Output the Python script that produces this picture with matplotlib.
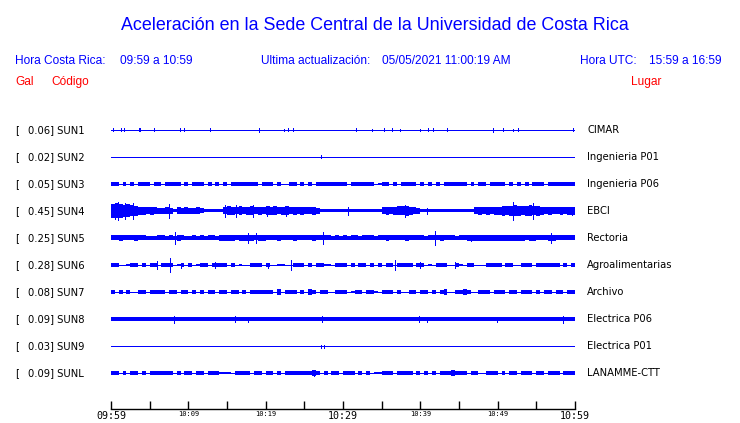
import matplotlib
matplotlib.use("Agg")
import matplotlib.pyplot as plt
import matplotlib.transforms as mtransforms
import numpy as np

# station data, top to bottom
codes = ["SUN1", "SUN2", "SUN3", "SUN4", "SUN5", "SUN6", "SUN7", "SUN8", "SUN9", "SUNL"]
peaks = [0.06, 0.02, 0.05, 0.45, 0.25, 0.28, 0.08, 0.09, 0.03, 0.09]
places = ["CIMAR", "Ingenieria P01", "Ingenieria P06", "EBCI", "Rectoria",
          "Agroalimentarias", "Archivo", "Electrica P06", "Electrica P01", "LANAMME-CTT"]

# envelope half-height per 30 s bin (hex digit, in half pixels)
env_sun1 = "0000000000" * 12
env_sun2 = "0000000000" * 12
env_sun3 = ("4404040444" "0440444404" "0444040404" "0444444404" "4404004404" "0404444444"
            "4044444402" "4404044440" "4040404444" "4404044044" "4404040404" "4404444444")
env_sun4 = ("efecdba887" "8766763767" "6675333337" "9879789787" "9897897878" "7786333333"
            "3333333333" "787899a876" "3333333333" "3333787878" "8a9aba9ab9" "a878778788")
env_sun5 = ("5565556554" "4455454654" "4545455466" "6656666566" "5556555655" "5565555454"
            "5455455545" "5655556555" "5455565554" "5566666666" "6666666566" "5556655555")
env_sun6 = ("4400244040" "4404440240" "4024404444" "0402004440" "4002200444" "0404422044"
            "4040440404" "0440444404" "4020444004" "2044000444" "4044004440" "4444440404")
env_sun7 = ("4040400440" "4444044044" "0404044044" "0440404444" "4406044404" "0640440044"
            "4024404420" "4440400440" "4404046004" "4640044404" "4404404440" "4044044044")
env_sun8 = "4444444444" * 12
env_sun9 = "0000000000" * 12
env_sunl = ("4404044040" "4444440404" "4044044422" "2044440440" "4404044444" "4464040440"
            "4440404022" "4440444404" "0404044454" "4404400444" "0404404440" "4404440444")
envelopes = [env_sun1, env_sun2, env_sun3, env_sun4, env_sun5,
             env_sun6, env_sun7, env_sun8, env_sun9, env_sunl]

# isolated spikes: (minute after 09:59, half-height in pixels)
spikes = [
    [(0.3, 1.5), (1.26, 1.5), (1.73, 1.5), (3.6, 1.5), (3.8, 1.5), (5.6, 1.5), (8.9, 1.5),
     (9.4, 1.5), (12.8, 1.5), (19.1, 2.2), (22.4, 1), (22.9, 1.5), (23.5, 1.5), (31.7, 1.5),
     (33.7, 1), (35.3, 1.5), (36.4, 1.5), (37.4, 1), (40.0, 1), (41.0, 1.5), (41.6, 1.5),
     (43.4, 1.5), (49.4, 2.2), (50.7, 1.5), (52.0, 1), (52.6, 1.5), (59.7, 1.5)],
    [(27.1, 1.5)],
    [],
    [(0.5, 8), (0.9, 9), (1.8, 8), (2.8, 8), (7.45, 7), (14.7, 6), (16.1, 6), (18.3, 6),
     (20.2, 5), (22.6, 5), (30.7, 4), (37.97, 6), (40.9, 3), (52.0, 9), (54.6, 8), (59.6, 4)],
    [(8.3, 6), (17.7, 5), (18.7, 5), (27.4, 6), (41.9, 7), (46.6, 3), (56.9, 5)],
    [(5.9, 4.3), (7.6, 7), (9.0, 2.5), (13.5, 3), (20.3, 2.5), (23.3, 5), (36.7, 5),
     (40.0, 3), (44.5, 3)],
    [],
    [(8.2, 3.5), (16.0, 3), (17.7, 2.5), (27.3, 3), (39.8, 3), (40.9, 2.5), (49.9, 2.5),
     (58.5, 3.5)],
    [(27.2, 1.5), (27.5, 1.5)],
    [(26.3, 3)],
]

time_ticks = [0, 10, 20, 30, 40, 50, 60]
time_labels = ["09:59", "10:09", "10:19", "10:29", "10:39", "10:49", "10:59"]
big_labels = ["09:59", "10:29", "10:59"]

W, H = 740, 423
BLUE = (0, 0, 1)
fig = plt.figure(figsize=(W / 100, H / 100), dpi=100)
fig.patch.set_facecolor("white")

ax = fig.add_axes([111 / W, 1 - 386.5 / H, 464 / W, 270 / H])
ax.set_xlim(0, 60)
ax.set_ylim(-9.5, 0.5)
ax.axis("off")
px = 1 / 27.0  # data units per pixel vertically

edges = np.arange(121) * 0.5
for i, env in enumerate(envelopes):
    row = -i
    amp = np.array([int(c, 16) for c in env], dtype=float) * 0.5 * px
    amp = np.append(amp, amp[-1])
    ax.hlines(row, edges[0], edges[-1], color=BLUE, lw=0.72, antialiased=False)
    ax.fill_between(edges, row - amp, row + amp, step="post", color=BLUE,
                    lw=0, antialiased=False)
    if spikes[i]:
        tm = np.array([s[0] for s in spikes[i]])
        hh = np.array([s[1] for s in spikes[i]]) * px
        ax.vlines(tm, row - hh, row + hh, color=BLUE, lw=0.5, antialiased=False)

trans = mtransforms.blended_transform_factory(fig.transFigure, ax.transData)
lab_font = dict(fontsize=7.2, family="DejaVu Sans", va="center", color="black")
for i in range(len(codes)):
    ax.text(15 / W, -i, "[", transform=trans, ha="left", **lab_font)
    ax.text(28 / W, -i, f"{peaks[i]:.2f}] {codes[i]}", transform=trans, ha="left", **lab_font)
    ax.text(587 / W, -i, places[i], transform=trans, ha="left", **lab_font)

# time axis
ax2 = fig.add_axes([111 / W, 1 - 409 / H, 464 / W, 0.0001])
ax2.set_xlim(0, 60)
ax2.set_ylim(0, 1)
for s in ["left", "right", "top"]:
    ax2.spines[s].set_visible(False)
ax2.spines["bottom"].set_linewidth(1.0)
ax2.set_yticks([])
ax2.set_xticks(time_ticks)
ax2.set_xticklabels(time_labels, family="DejaVu Sans Mono")
ax2.set_xticks(np.arange(5, 60, 10), minor=True)
ax2.tick_params(axis="x", which="both", direction="in", length=5.8, width=1.0, pad=1.5)
for lbl in ax2.get_xticklabels():
    lbl.set_fontsize(7.2 if lbl.get_text() in big_labels else 5.0)

# header
hfont = dict(family="Liberation Sans", va="baseline")
fig.text(375 / W, 1 - 30 / H, "Aceleración en la Sede Central de la Universidad de Costa Rica",
         ha="center", fontsize=12.9, color="blue", **hfont)
y1 = 1 - 64.3 / H
fig.text(15 / W, y1, "Hora Costa Rica:", fontsize=8.6, color="blue", **hfont)
fig.text(120.5 / W, y1, "09:59 a 10:59", fontsize=8.6, color="blue", **hfont)
fig.text(261 / W, y1, "Ultima actualización:", fontsize=8.6, color="blue", **hfont)
fig.text(382 / W, y1, "05/05/2021 11:00:19 AM", fontsize=8.6, color="blue", **hfont)
fig.text(580.5 / W, y1, "Hora UTC:", fontsize=8.6, color="blue", **hfont)
fig.text(649 / W, y1, "15:59 a 16:59", fontsize=8.6, color="blue", **hfont)
y2 = 1 - 85 / H
fig.text(15 / W, y2, "Gal", fontsize=8.6, color="red", **hfont)
fig.text(51 / W, y2, "Código", fontsize=8.6, color="red", **hfont)
fig.text(630.5 / W, y2, "Lugar", fontsize=8.6, color="red", **hfont)

fig.savefig("out.png", dpi=100)
